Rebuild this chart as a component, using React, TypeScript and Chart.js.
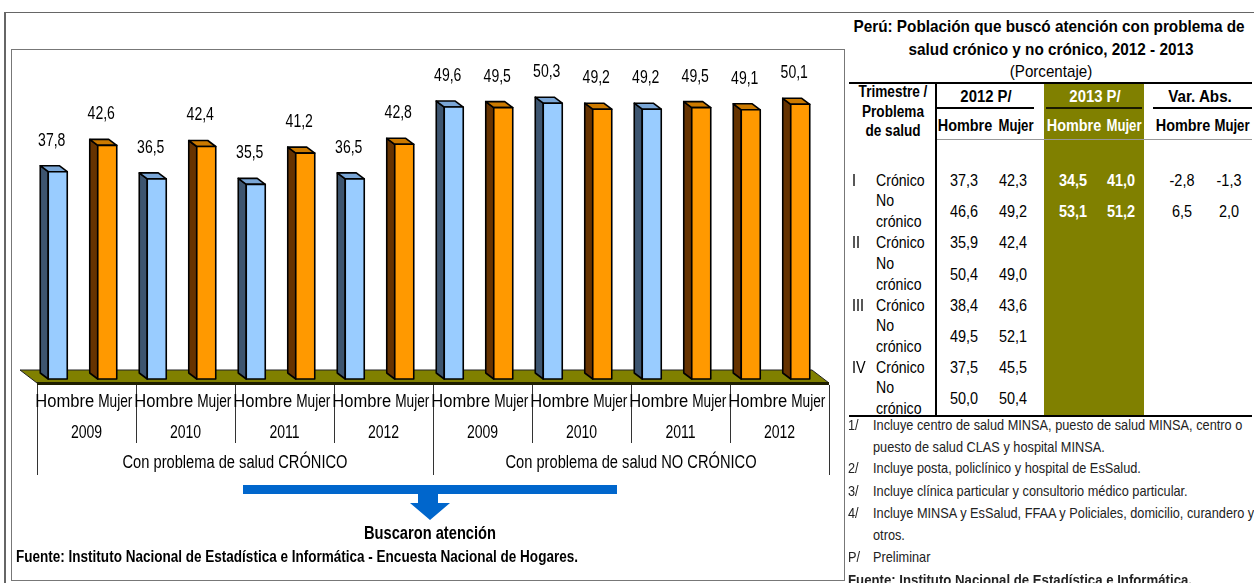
import React, { useEffect, useRef } from "react";
import { Chart, registerables } from "chart.js";
Chart.register(...registerables);

const FONT = '"Liberation Sans Narrow", "Arial Narrow", "Liberation Sans", Arial, sans-serif';

// ---------- chart data ----------
const years = ["2009", "2010", "2011", "2012"];
const sexes = ["Hombre", "Mujer"];
const groups = ["Con problema de salud CRÓNICO", "Con problema de salud NO CRÓNICO"];
const cronicoHombre = [37.8, 36.5, 35.5, 36.5];
const cronicoMujer = [42.6, 42.4, 41.2, 42.8];
const noCronicoHombre = [49.6, 50.3, 49.2, 49.1];
const noCronicoMujer = [49.5, 49.2, 49.5, 50.1];

// ---------- table data ----------
const tableTitle1 = "Perú: Población que buscó atención con problema de";
const tableTitle2 = "salud crónico y no crónico, 2012 - 2013";
const tableUnit = "(Porcentaje)";
const trimestres = ["I", "", "II", "", "III", "", "IV", ""];
const problemas = ["Crónico", "No crónico", "Crónico", "No crónico", "Crónico", "No crónico", "Crónico", "No crónico"];
const hombre2012 = [37.3, 46.6, 35.9, 50.4, 38.4, 49.5, 37.5, 50.0];
const mujer2012 = [42.3, 49.2, 42.4, 49.0, 43.6, 52.1, 45.5, 50.4];
const hombre2013 = [34.5, 53.1];
const mujer2013 = [41.0, 51.2];
const varHombre = [-2.8, 6.5];
const varMujer = [-1.3, 2.0];
const footnotes: [string, string[]][] = [
  ["1/", ["Incluye centro de salud MINSA, puesto de salud MINSA, centro o", "puesto de salud CLAS y hospital MINSA."]],
  ["2/", ["Incluye posta, policlínico y hospital de EsSalud."]],
  ["3/", ["Incluye clínica particular y consultorio médico particular."]],
  ["4/", ["Incluye MINSA y EsSalud, FFAA y Policiales, domicilio, curandero y", "otros."]],
  ["P/", ["Preliminar"]],
];
const fuenteTabla = "Fuente: Instituto Nacional de Estadística e Informática.";
const fuenteGrafico = "Fuente: Instituto Nacional de Estadística e Informática - Encuesta Nacional de Hogares.";
const flechaTexto = "Buscaron atención";

const fmt = (v: number) => v.toFixed(1).replace(".", ",");

// build the 16 bars
const barLabels: string[][] = [];
const barValues: number[] = [];
const barIsOrange: boolean[] = [];
groups.forEach((g, gi) => {
  years.forEach((y, yi) => {
    sexes.forEach((s, si) => {
      barLabels.push([s, y, g]);
      const src = gi === 0 ? (si === 0 ? cronicoHombre : cronicoMujer) : (si === 0 ? noCronicoHombre : noCronicoMujer);
      barValues.push(src[yi]);
      barIsOrange.push(si === 1 || (gi === 1 && yi === 3));
    });
  });
});

const BLUE = { front: "#99ccff", side: "#3d5570", top: "#7aa6d6" };
const ORANGE = { front: "#ff9900", side: "#663300", top: "#cc7a00" };

function narrowText(ctx: CanvasRenderingContext2D, text: string, x: number, y: number, scale: number) {
  const w = ctx.measureText(text).width;
  ctx.fillText(text, x, y, w * scale);
}

const excel3d = {
  id: "excel3d",
  afterDatasetsDraw(chart: any) {
    const ctx = chart.ctx as CanvasRenderingContext2D;
    const xs = chart.scales.x;
    const ys = chart.scales.y;
    const area = chart.chartArea;
    const base = ys.getPixelForValue(0);
    const L = area.left;
    const R = area.right;
    ctx.save();
    // floor
    const fTop = base - 9;
    const fBot = base + 4;
    const fdx = 17;
    ctx.beginPath();
    ctx.moveTo(L - fdx, fTop);
    ctx.lineTo(R - fdx, fTop);
    ctx.lineTo(R, fBot);
    ctx.lineTo(L, fBot);
    ctx.closePath();
    ctx.fillStyle = "#808000";
    ctx.fill();
    ctx.strokeStyle = "#222";
    ctx.lineWidth = 1;
    ctx.stroke();
    ctx.fillStyle = "#1e1e00";
    ctx.fillRect(L, fBot - 1, R - L, 3);

    // bars
    const meta = chart.getDatasetMeta(0);
    const dx = 8, dy = 6, w = 19;
    meta.data.forEach((el: any, i: number) => {
      const p = el.getProps(["x", "y"], true);
      const col = barIsOrange[i] ? ORANGE : BLUE;
      const cx = p.x - 4;
      const l = cx - w / 2, r = cx + w / 2, t = p.y, b = base;
      ctx.lineWidth = 1.6;
      ctx.strokeStyle = "#000";
      ctx.lineJoin = "round";
      // side
      ctx.beginPath();
      ctx.moveTo(l, t); ctx.lineTo(l - dx, t - dy); ctx.lineTo(l - dx, b - dy); ctx.lineTo(l, b); ctx.closePath();
      ctx.fillStyle = col.side; ctx.fill(); ctx.stroke();
      // top
      ctx.beginPath();
      ctx.moveTo(l, t); ctx.lineTo(l - dx, t - dy); ctx.lineTo(r - dx, t - dy); ctx.lineTo(r, t); ctx.closePath();
      ctx.fillStyle = col.top; ctx.fill(); ctx.stroke();
      // front
      ctx.beginPath();
      ctx.rect(l, t, w, b - t);
      ctx.fillStyle = col.front; ctx.fill(); ctx.stroke();
      // value label
      ctx.fillStyle = "#000";
      ctx.font = `18px ${FONT}`;
      ctx.textAlign = "center";
      ctx.textBaseline = "middle";
      narrowText(ctx, fmt(barValues[i]), p.x - 10, p.y - 31, 0.78);
    });

    // category axis (multi-level)
    const n = barLabels.length;
    const cw = (R - L) / n;
    ctx.strokeStyle = "#333";
    ctx.lineWidth = 1;
    for (let k = 0; k <= n; k += 2) {
      const xx = Math.round(L + k * cw) + 0.5;
      const yEnd = k % 8 === 0 ? base + 96 : base + 64;
      ctx.beginPath();
      ctx.moveTo(xx, fBot + 2);
      ctx.lineTo(xx, yEnd);
      ctx.stroke();
    }
    ctx.fillStyle = "#000";
    ctx.font = `18px ${FONT}`;
    ctx.textAlign = "center";
    ctx.textBaseline = "middle";
    for (let i = 0; i < n; i++) {
      const isH = i % 2 === 0;
      narrowText(ctx, barLabels[i][0], xs.getPixelForValue(i) + (isH ? 3 : 4), base + 23, isH ? 0.92 : 0.76);
    }
    for (let j = 0; j < n / 2; j++) {
      narrowText(ctx, barLabels[j * 2][1], L + (j * 2 + 1) * cw, base + 54, 0.78);
    }
    for (let g = 0; g < n / 8; g++) {
      narrowText(ctx, barLabels[g * 8][2], L + (g * 8 + 4) * cw, base + 84, 0.815);
    }
    ctx.restore();
  },
};

function T({ x, y, a = "center", size = 17, bold = false, color = "#000", sx = 0.85, children }: any) {
  const tx = a === "center" ? "-50%" : a === "right" ? "-100%" : "0";
  const ox = a === "center" ? "center" : a === "right" ? "right" : "left";
  return (
    <div
      style={{
        position: "absolute",
        left: x,
        top: y,
        transform: `translate(${tx}, -50%) scaleX(${sx})`,
        transformOrigin: `${ox} center`,
        font: `${bold ? "bold " : ""}${size}px ${FONT}`,
        color,
        whiteSpace: "nowrap",
        lineHeight: 1,
      }}
    >
      {children}
    </div>
  );
}

function Box({ x, y, w, h, bg, style }: any) {
  return <div style={{ position: "absolute", left: x, top: y, width: w, height: h, background: bg, ...style }} />;
}

export default function App() {
  const ref = useRef<HTMLCanvasElement | null>(null);
  useEffect(() => {
    if (!ref.current) return;
    const chart = new Chart(ref.current, {
      type: "bar",
      data: {
        labels: barLabels.map((l) => l.join(" ")),
        datasets: [
          {
            data: barValues,
            backgroundColor: "rgba(0,0,0,0)",
            borderWidth: 0,
            barThickness: 19,
          },
        ],
      },
      options: {
        animation: false,
        responsive: false,
        devicePixelRatio: 1,
        layout: { padding: { left: 37, right: 14, top: 50, bottom: 204 } },
        plugins: { legend: { display: false }, tooltip: { enabled: false }, title: { display: false } },
        scales: {
          x: { display: false },
          y: { display: false, min: 0, max: 60 },
        },
      },
      plugins: [excel3d],
    });
    return () => chart.destroy();
  }, []);

  const colX = [964, 1013, 1073, 1121, 1182, 1229];
  const rowY = (i: number) => 180 + i * 31.2;
  const footLines: { m: string; t: string }[] = [];
  footnotes.forEach(([m, lines]) => lines.forEach((t, k) => footLines.push({ m: k === 0 ? m : "", t })));
  const footY = [424, 446, 467, 490, 512, 534, 556];

  return (
    <div style={{ position: "fixed", left: 0, top: 0, width: 1254, height: 583, background: "#fff", overflow: "hidden" }}>
      {/* frames */}
      <Box x={4} y={12} w={1300} h={700} style={{ borderLeft: "2px solid #666", borderTop: "1.5px solid #666" }} />
      <Box x={11} y={49} w={832} h={530} style={{ border: "1.5px solid #777" }} />

      <canvas ref={ref} width={843} height={583} style={{ position: "absolute", left: 0, top: 0, width: 843, height: 583 }} />

      {/* arrow */}
      <svg style={{ position: "absolute", left: 0, top: 0 }} width={843} height={583}>
        <rect x={243} y={485} width={374} height={9} fill="#0066cc" />
        <polygon points="418,494 438,494 438,503 450,503 430,520 410,503 418,503" fill="#0066cc" />
      </svg>
      <T x={430} y={533} size={18} bold sx={0.815}>{flechaTexto}</T>
      <T x={16} y={557} a="left" size={16} bold sx={0.845}>{fuenteGrafico}</T>

      {/* table title */}
      <T x={1049} y={26} size={17} bold sx={0.9}>{tableTitle1}</T>
      <T x={1051} y={49} size={17} bold sx={0.9}>{tableTitle2}</T>
      <T x={1051} y={71} size={17} sx={0.89}>{tableUnit}</T>

      {/* table structure */}
      <Box x={1044} y={83} w={100} h={333} bg="#808000" />
      <Box x={849} y={82} w={403} h={2} bg="#000" />
      <Box x={849} y={415} w={403} h={2} bg="#000" />
      <Box x={935} y={83} w={2} h={333} bg="#000" />
      <Box x={937} y={107} w={97} h={2} bg="#000" />
      <Box x={1046} y={107} w={96} h={2} bg="#1a1a00" />
      <Box x={1153} y={107} w={99} h={2} bg="#000" />
      <Box x={937} y={139} w={315} h={1} bg="#999" />

      {/* header */}
      <T x={893} y={92} size={16} bold sx={0.85}>Trimestre /</T>
      <T x={893} y={112} size={16} bold sx={0.85}>Problema</T>
      <T x={893} y={131} size={16} bold sx={0.85}>de salud</T>
      <T x={986} y={97} size={16} bold sx={0.93}>2012 P/</T>
      <T x={1095} y={97} size={16} bold sx={0.93} color="#fff">2013 P/</T>
      <T x={1200} y={97} size={16} bold sx={0.95}>Var. Abs.</T>
      {[0, 1, 2].map((g) => (
        <React.Fragment key={g}>
          <T x={colX[g * 2] + 1} y={126} size={16} bold sx={0.9} color={g === 1 ? "#fff" : "#000"}>Hombre</T>
          <T x={colX[g * 2 + 1] + 3} y={126} size={16} bold sx={0.82} color={g === 1 ? "#fff" : "#000"}>Mujer</T>
        </React.Fragment>
      ))}

      {/* rows */}
      {problemas.map((p, i) => {
        const y = rowY(i);
        const parts = p.split(" ");
        return (
          <React.Fragment key={i}>
            {trimestres[i] && <T x={852} y={y} a="left" size={17} sx={0.85}>{trimestres[i]}</T>}
            {parts.length === 1 ? (
              <T x={876} y={y} a="left" size={17} sx={0.83}>{p}</T>
            ) : (
              <>
                <T x={876} y={y - 11} a="left" size={17} sx={0.83}>{parts[0]}</T>
                <T x={876} y={y + 10} a="left" size={17} sx={0.83}>{parts[1]}</T>
              </>
            )}
            <T x={colX[0]} y={y} size={17}>{fmt(hombre2012[i])}</T>
            <T x={colX[1]} y={y} size={17}>{fmt(mujer2012[i])}</T>
            {i < hombre2013.length && (
              <>
                <T x={colX[2]} y={y} size={17} bold color="#fff">{fmt(hombre2013[i])}</T>
                <T x={colX[3]} y={y} size={17} bold color="#fff">{fmt(mujer2013[i])}</T>
                <T x={colX[4]} y={y} size={17}>{fmt(varHombre[i])}</T>
                <T x={colX[5]} y={y} size={17}>{fmt(varMujer[i])}</T>
              </>
            )}
          </React.Fragment>
        );
      })}

      {/* footnotes */}
      {footLines.map((f, i) => (
        <React.Fragment key={i}>
          {f.m && <T x={848} y={footY[i]} a="left" size={15} sx={0.85} color="#222">{f.m}</T>}
          <T x={873} y={footY[i]} a="left" size={15} sx={0.85} color="#222">{f.t}</T>
        </React.Fragment>
      ))}
      <T x={848} y={579} a="left" size={15} bold sx={0.88} color="#222">{fuenteTabla}</T>
    </div>
  );
}
